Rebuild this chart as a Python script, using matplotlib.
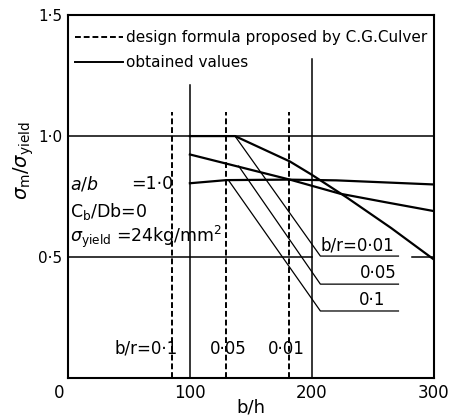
import numpy as np
import matplotlib.pyplot as plt
import matplotlib.transforms as mtransforms
from matplotlib.lines import Line2D

plt.rcParams['font.family'] = ['DejaVu Sans']
plt.rcParams['mathtext.fontset'] = 'dejavusans'

# obtained values (solid curves)
bh_001 = [100, 137, 182, 200, 229, 265, 300]
sm_001 = [1.0, 1.0, 0.895, 0.84, 0.745, 0.62, 0.49]
bh_005 = [100, 130, 182, 223, 260, 300]
sm_005 = [0.924, 0.886, 0.82, 0.762, 0.727, 0.69]
bh_01 = [100, 130, 180, 220, 300]
sm_01 = [0.805, 0.818, 0.82, 0.817, 0.80]

# design formula by C.G.Culver (dashed verticals)
culver_bh = [85, 130, 181]
culver_top = 1.1
culver_labels = ["b/r=0·1", "0·05", "0·01"]

# leader lines from the curves to the b/r labels
lead_start_bh = [137, 140, 132]
lead_start_sm = [1.0, 0.876, 0.815]
lead_bend_bh = 207
lead_end_bh = 271
lead_sm = [0.504, 0.388, 0.277]
lead_labels = ["b/r=0·01", "0·05", "0·1"]

fig = plt.figure(figsize=(4.62, 4.2), dpi=100)
ax = fig.add_axes([0.147, 0.10, 0.792, 0.864])

# grid lines
ax.plot([0, 300], [1.0, 1.0], color="black", lw=1.1)
ax.plot([0, 200], [0.5, 0.5], color="black", lw=1.1)
ax.plot([282, 300], [0.5, 0.5], color="black", lw=1.1)
ax.plot([100, 100], [0, 1.21], color="black", lw=1.1)
ax.plot([200, 200], [0, 1.32], color="black", lw=1.1)

# Culver design formula
for x in culver_bh:
    ax.plot([x, x], [0, culver_top], color="black", lw=1.4,
            linestyle=(0, (3, 1.5)))
ax.text(90, 0.12, culver_labels[0], ha="right", va="center", fontsize=12)
ax.text(131.5, 0.12, culver_labels[1], ha="center", va="center", fontsize=12)
ax.text(179, 0.12, culver_labels[2], ha="center", va="center", fontsize=12)

# obtained values
ax.plot(bh_001, sm_001, color="black", lw=1.6)
ax.plot(bh_005, sm_005, color="black", lw=1.6)
ax.plot(bh_01, sm_01, color="black", lw=1.6)

# leaders + labels
lab_x = [237, 254.5, 249]
for i in range(3):
    ax.plot([lead_start_bh[i], lead_bend_bh, lead_end_bh],
            [lead_start_sm[i], lead_sm[i], lead_sm[i]], color="black", lw=0.9)
    ax.text(lab_x[i], lead_sm[i] + 0.008, lead_labels[i], ha="center",
            va="bottom", fontsize=12)

# parameters
ax.text(2, 0.80, r"$a/b$", ha="left", va="center", fontsize=12.5)
ax.text(52, 0.80, "=1·0", ha="left", va="center", fontsize=12.5)
ax.text(2, 0.69, r"C$_\mathrm{b}$/Db=0", ha="left", va="center", fontsize=12.5)
ax.text(2, 0.585, r"$\sigma_\mathrm{yield}$ =24kg/mm$^2$", ha="left",
        va="center", fontsize=12.5)

# legend
handles = [Line2D([], [], color="black", lw=1.4, linestyle=(0, (3, 1.5))),
           Line2D([], [], color="black", lw=1.4)]
ax.legend(handles, ["design formula proposed by C.G.Culver", "obtained values"],
          loc="upper left", bbox_to_anchor=(0.02, 0.958), frameon=False,
          fontsize=11, handlelength=3.1, handletextpad=0.2,
          labelspacing=0.65, borderpad=0, borderaxespad=0)

ax.set_xlim(0, 300)
ax.set_ylim(0, 1.5)
ax.set_xticks([0, 100, 200, 300])
ax.set_xticklabels(["0", "100", "200", "300"], fontsize=12)
ax.set_yticks([0.5, 1.0, 1.5])
ax.set_yticklabels(["0·5", "1·0", "1·5"], fontsize=11)
ax.tick_params(length=0)
ax.tick_params(axis="x", pad=4)
ax.tick_params(axis="y", pad=4)
for s in ax.spines.values():
    s.set_linewidth(1.5)

# the origin "0" sits a little left of the axis
lbl0 = ax.get_xticklabels()[0]
lbl0.set_transform(lbl0.get_transform() +
                   mtransforms.ScaledTranslation(-6 / 72, 0, fig.dpi_scale_trans))

ax.set_xlabel("b/h", fontsize=13, labelpad=-2)
ax.set_ylabel(r"$\sigma_\mathrm{m}/\sigma_\mathrm{yield}$", fontsize=14)
ax.yaxis.set_label_coords(-0.087, 0.6)

fig.savefig("out.png", dpi=100)
